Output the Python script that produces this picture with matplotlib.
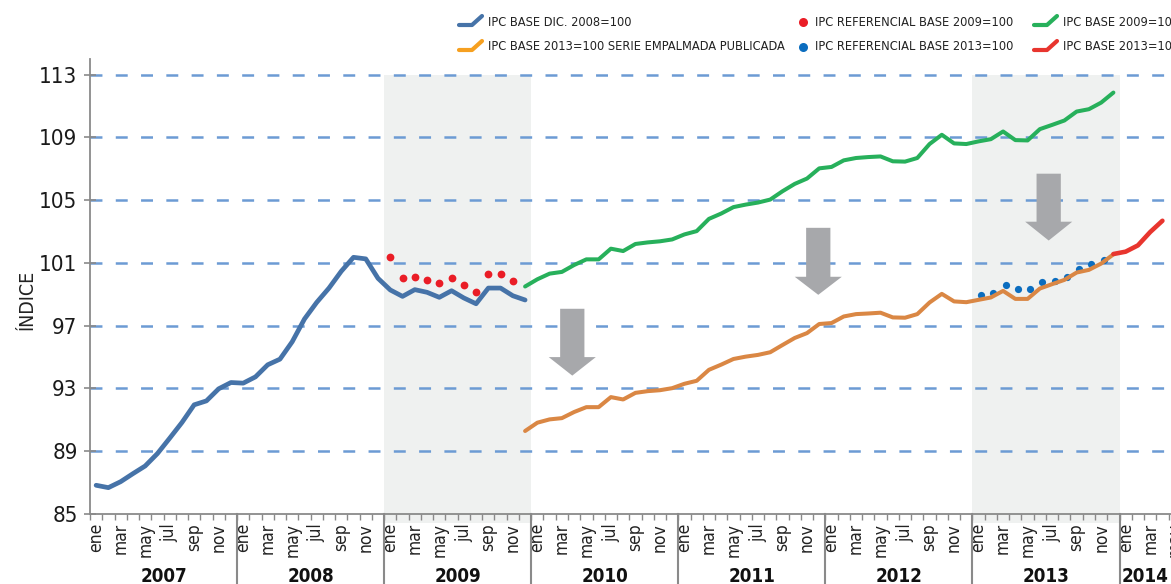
import matplotlib
matplotlib.use('Agg')
import matplotlib.pyplot as plt
import matplotlib.transforms as mtransforms
from matplotlib.lines import Line2D
from matplotlib.patches import Polygon, Rectangle

FONT = ['DejaVu Sans']
plt.rcParams['font.family'] = FONT
plt.rcParams['font.stretch'] = 'condensed'
plt.rcParams['lines.scale_dashes'] = False

# ---------------- data ----------------
years = ['2007', '2008', '2009', '2010', '2011', '2012', '2013', '2014']
month_names = ['ene', 'feb', 'mar', 'abr', 'may', 'jun',
               'jul', 'ago', 'sep', 'oct', 'nov', 'dic']
y_ticks = [85, 89, 93, 97, 101, 105, 109, 113]
shaded_years = ['2009', '2013']

# IPC BASE DIC. 2008=100  (ene 2007 - dic 2009)
ipc_2008_start = '2007-01'
ipc_2008 = [86.83, 86.68, 87.06, 87.57, 88.06, 88.85, 89.83, 90.83, 91.96, 92.21, 92.98, 93.38,
            93.34, 93.74, 94.51, 94.87, 95.98, 97.43, 98.49, 99.40, 100.47, 101.36, 101.26, 100.02,
            99.28, 98.87, 99.30, 99.13, 98.81, 99.23, 98.77, 98.40, 99.40, 99.40, 98.91, 98.64]

# IPC REFERENCIAL BASE 2009=100 (ene 2009 - nov 2009)
ref_2009_start = '2009-01'
ref_2009 = [101.36, 100.04, 100.09, 99.94, 99.72, 100.06, 99.62, 99.17, 100.32, 100.30, 99.87]

# IPC BASE 2009=100 (dic 2009 - dic 2013)
ipc_2009_start = '2009-12'
ipc_2009 = [99.50,
            99.96, 100.32, 100.43, 100.87, 101.23, 101.23, 101.91, 101.76, 102.21, 102.31, 102.38, 102.50,
            102.82, 103.03, 103.81, 104.15, 104.56, 104.72, 104.85, 105.04, 105.57, 106.04, 106.38, 107.03,
            107.12, 107.54, 107.69, 107.75, 107.79, 107.48, 107.46, 107.69, 108.58, 109.17, 108.62, 108.58,
            108.75, 108.89, 109.38, 108.83, 108.81, 109.53, 109.80, 110.08, 110.65, 110.80, 111.22, 111.86]

# IPC BASE 2013=100 SERIE EMPALMADA PUBLICADA (dic 2009 - dic 2013)
empalmada_start = '2009-12'
empalmada = [90.29,
             90.82, 91.03, 91.11, 91.50, 91.81, 91.81, 92.45, 92.30, 92.72, 92.83, 92.89, 93.02,
             93.30, 93.49, 94.19, 94.52, 94.88, 95.03, 95.14, 95.31, 95.77, 96.22, 96.53, 97.11,
             97.17, 97.59, 97.74, 97.78, 97.83, 97.53, 97.51, 97.74, 98.48, 99.03, 98.55, 98.50,
             98.65, 98.80, 99.22, 98.71, 98.71, 99.37, 99.65, 99.92, 100.39, 100.56, 100.96, 101.55]

# IPC REFERENCIAL BASE 2013=100 (ene 2013 - nov 2013)
ref_2013_start = '2013-01'
ref_2013 = [98.95, 99.07, 99.58, 99.37, 99.33, 99.79, 99.86, 100.13, 100.64, 100.92, 101.19]

# IPC BASE 2013=100 (dic 2013 - abr 2014)
ipc_2013_start = '2013-12'
ipc_2013 = [101.57, 101.72, 102.12, 102.97, 103.69]

legend_labels = ['IPC BASE DIC. 2008=100',
                 'IPC BASE 2013=100 SERIE EMPALMADA PUBLICADA',
                 'IPC REFERENCIAL BASE 2009=100',
                 'IPC REFERENCIAL BASE 2013=100',
                 'IPC BASE 2009=100',
                 'IPC BASE 2013=100']

# ---------------- styles ----------------
C_BLUE = '#4673a8'
C_ORANGE = '#da8744'
C_ORANGE_LEG = '#f6a020'
C_GREEN = '#27b05b'
C_RED = '#e8352e'
C_RED_DOT = '#ea1d26'
C_BLUE_DOT = '#0b6dbf'
C_GRID = '#6c9bd4'
C_SHADE = '#eff1f0'
C_AXIS = '#8a8a8a'
C_ARROW = '#a7a8ab'

W, H = 1171, 584


def idx(start):
    y, m = start.split('-')
    return (int(y) - int(years[0])) * 12 + int(m) - 1


def xs(start, n):
    s = idx(start)
    return list(range(s, s + n))


fig = plt.figure(figsize=(W / 100, H / 100), dpi=100)
ax = fig.add_axes([90 / W, 70 / H, 1081 / W, 455 / H])
x_max = 87.7

for s in ['top', 'right']:
    ax.spines[s].set_visible(False)
for s in ['left', 'bottom']:
    ax.spines[s].set_color(C_AXIS)
    ax.spines[s].set_linewidth(1.3)

# y axis
ax.set_yticks(y_ticks)
ax.set_yticklabels([str(v) for v in y_ticks])
ax.tick_params(axis='y', direction='inout', length=8, width=1.2, color=C_AXIS,
               labelsize=16, pad=5, labelcolor='#1a1a1a')
ax.set_ylabel('ÍNDICE', fontsize=14, color='#222222')
ax.yaxis.set_label_coords(-0.049, 0.47)

# x axis: month boundary ticks
n_months = len(years) * 12
ax.set_xticks([i - 0.5 for i in range(n_months + 1)])
ax.set_xticklabels([])
ax.tick_params(axis='x', direction='out', length=4, width=1.0, color=C_AXIS)

ax.set_xlim(-0.5, x_max)
ax.set_ylim(85, 114)

# shaded years
for yr in shaded_years:
    s = years.index(yr) * 12 - 0.5
    ax.add_patch(Rectangle((s, 84.42), 12, 113 - 84.42, facecolor=C_SHADE,
                           edgecolor='none', zorder=0, clip_on=False))

# gridlines
for v in y_ticks[1:]:
    ax.plot([-0.5, x_max], [v, v], color=C_GRID, lw=1.8, dashes=(8.6, 9.6), zorder=1)

trans = mtransforms.blended_transform_factory(ax.transData, ax.transAxes)
for i in range(n_months):
    if i % 2 == 0 and i <= x_max + 0.6:
        ax.text(i, -9 / 455, month_names[i % 12], transform=trans, rotation=90,
                ha='center', va='top', fontsize=12.5, color='#222222', clip_on=False)

for k, yr in enumerate(years):
    b = k * 12 - 0.5
    if b > -0.5:
        ax.add_line(Line2D([b, b], [0, -75 / 455], transform=trans, color=C_AXIS,
                           lw=1.5, clip_on=False))
    lo, hi = b, min(b + 12, x_max)
    ax.text((lo + hi) / 2, -62 / 455, yr, transform=trans, ha='center', va='center',
            fontsize=13.5, fontweight='bold', color='#111111', clip_on=False)

# series
ax.plot(xs(ipc_2008_start, len(ipc_2008)), ipc_2008, color=C_BLUE, lw=3.4,
        solid_capstyle='round', solid_joinstyle='round', zorder=4)
ax.plot(xs(ipc_2009_start, len(ipc_2009)), ipc_2009, color=C_GREEN, lw=2.9,
        solid_capstyle='round', solid_joinstyle='round', zorder=4)
ax.plot(xs(empalmada_start, len(empalmada)), empalmada, color=C_ORANGE, lw=2.9,
        solid_capstyle='round', solid_joinstyle='round', zorder=4)
ax.plot(xs(ipc_2013_start, len(ipc_2013)), ipc_2013, color=C_RED, lw=3.3,
        solid_capstyle='round', solid_joinstyle='round', zorder=5)
ax.plot(xs(ref_2009_start, len(ref_2009)), ref_2009, 'o', color=C_RED_DOT, ms=5.6,
        mec='none', zorder=5)
ax.plot([x + 0.2 for x in xs(ref_2013_start, len(ref_2013))], ref_2013, 'o',
        color=C_BLUE_DOT, ms=5.2, mec='none', zorder=3)

# decorative down arrows: (center x, top, head base, tip, shaft half width, head half width)
arrows = [(38.85, 98.08, 95.00, 93.82, 0.99, 1.92),
          (58.92, 103.24, 100.12, 98.97, 0.99, 1.92),
          (77.72, 106.69, 103.63, 102.43, 0.99, 1.92)]
for cx, top, base, tip, sw, hw in arrows:
    pts = [(cx - sw, top), (cx + sw, top), (cx + sw, base), (cx + hw, base),
           (cx, tip), (cx - hw, base), (cx - sw, base)]
    ax.add_patch(Polygon(pts, closed=True, facecolor=C_ARROW, edgecolor='none', zorder=6))

# legend (custom)
def fx(px):
    return px / W


def fy(py):
    return 1 - py / H


def leg_line(x0, yc, color):
    fig.add_artist(Line2D([fx(x0), fx(x0 + 13), fx(x0 + 23)],
                          [fy(yc + 3), fy(yc + 3), fy(yc - 6)],
                          color=color, lw=3.0, solid_capstyle='round',
                          solid_joinstyle='round'))


def leg_dot(xc, yc, color):
    fig.add_artist(Line2D([fx(xc)], [fy(yc)], marker='o', ms=6.5, color=color,
                          mec='none', linestyle='none'))


row1, row2 = 22, 47
leg_line(459, row1, C_BLUE)
leg_line(459, row2, C_ORANGE_LEG)
leg_dot(803, row1, C_RED_DOT)
leg_dot(803, row2, C_BLUE_DOT)
leg_line(1034, row1, C_GREEN)
leg_line(1034, row2, C_RED)
for (tx, ty), lab in zip([(488, row1), (488, row2), (815, row1), (815, row2),
                          (1063, row1), (1063, row2)], legend_labels):
    fig.text(fx(tx), fy(ty), lab, ha='left', va='center', fontsize=9.2, color='#222222')

fig.savefig('out.png', dpi=100)
